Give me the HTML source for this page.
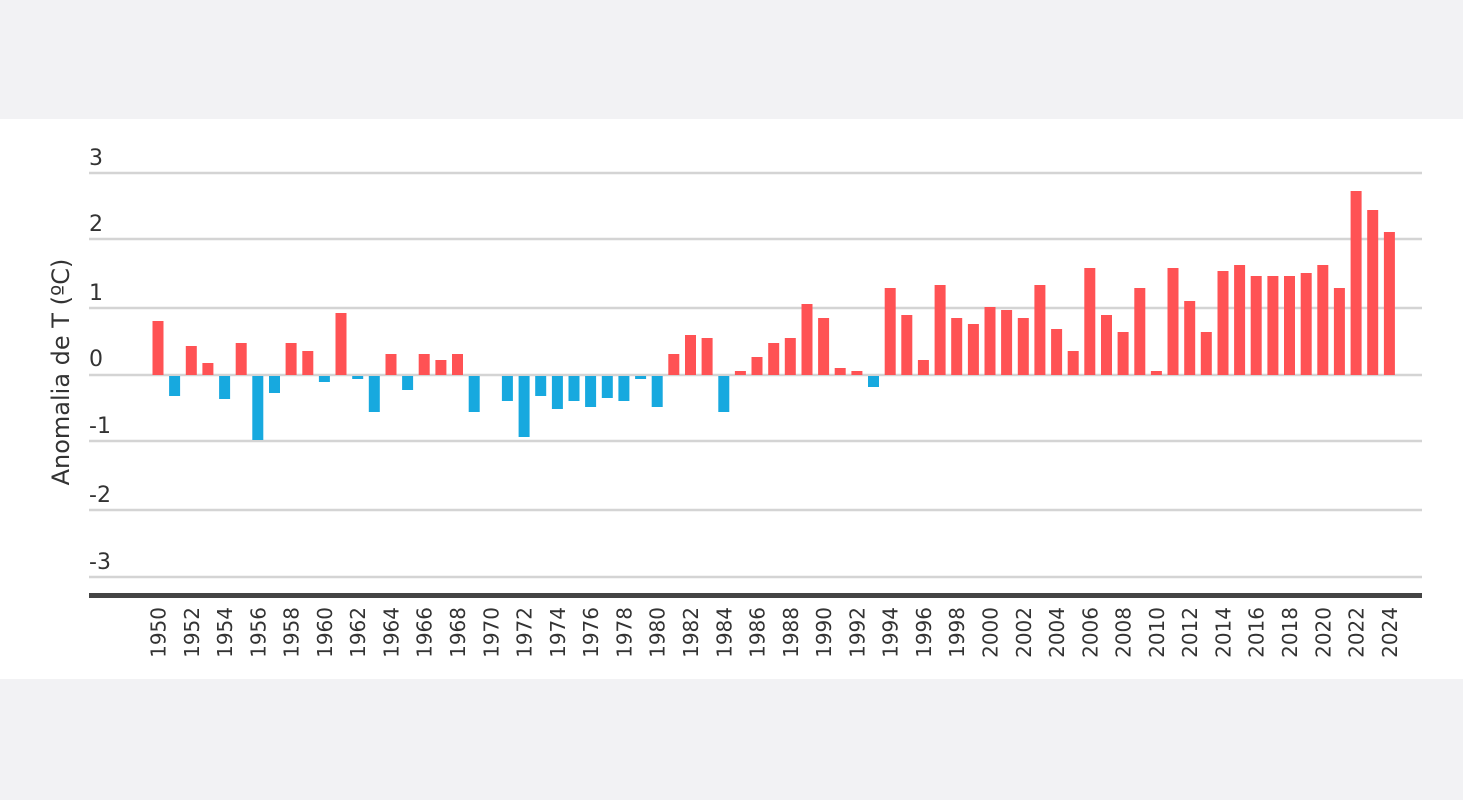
<!DOCTYPE html>
<html><head><meta charset="utf-8"><style>
html,body{margin:0;padding:0;background:#f2f2f4;}
svg{display:block;}
text{font-family:"DejaVu Sans","Liberation Sans",sans-serif;fill:#333;}
</style></head><body>
<svg width="1463" height="800" xmlns="http://www.w3.org/2000/svg">
<rect x="0" y="0" width="1463" height="800" fill="#f2f2f4"/>
<rect x="0" y="119" width="1463" height="560" fill="#fff"/>
<g stroke="#d4d4d4" stroke-width="2.5">
<line x1="89" x2="1422" y1="173" y2="173"/>
<line x1="89" x2="1422" y1="239" y2="239"/>
<line x1="89" x2="1422" y1="308" y2="308"/>
<line x1="89" x2="1422" y1="375" y2="375"/>
<line x1="89" x2="1422" y1="441" y2="441"/>
<line x1="89" x2="1422" y1="510" y2="510"/>
<line x1="89" x2="1422" y1="577" y2="577"/>
</g>
<rect x="89" y="593" width="1333" height="5" fill="#444"/>
<g font-size="22">
<text x="89" y="165">3</text>
<text x="89" y="231">2</text>
<text x="89" y="300">1</text>
<text x="89" y="366">0</text>
<text x="89" y="433">-1</text>
<text x="89" y="502">-2</text>
<text x="89" y="569">-3</text>
</g>
<text font-size="24" transform="translate(69,372) rotate(-90)" text-anchor="middle">Anomalia de T (ºC)</text>
<g fill="#ff5254">
<rect x="152.5" y="321" width="11" height="54"/>
<rect x="185.8" y="346" width="11" height="29"/>
<rect x="202.4" y="363" width="11" height="12"/>
<rect x="235.7" y="343" width="11" height="32"/>
<rect x="285.6" y="343" width="11" height="32"/>
<rect x="302.3" y="351" width="11" height="24"/>
<rect x="335.5" y="313" width="11" height="62"/>
<rect x="385.5" y="354" width="11" height="21"/>
<rect x="418.7" y="354" width="11" height="21"/>
<rect x="435.4" y="360" width="11" height="15"/>
<rect x="452.0" y="354" width="11" height="21"/>
<rect x="668.3" y="354" width="11" height="21"/>
<rect x="685.0" y="335" width="11" height="40"/>
<rect x="701.6" y="338" width="11" height="37"/>
<rect x="734.9" y="371" width="11" height="4"/>
<rect x="751.5" y="357" width="11" height="18"/>
<rect x="768.2" y="343" width="11" height="32"/>
<rect x="784.8" y="338" width="11" height="37"/>
<rect x="801.5" y="304" width="11" height="71"/>
<rect x="818.1" y="318" width="11" height="57"/>
<rect x="834.7" y="368" width="11" height="7"/>
<rect x="851.4" y="371" width="11" height="4"/>
<rect x="884.7" y="288" width="11" height="87"/>
<rect x="901.3" y="315" width="11" height="60"/>
<rect x="917.9" y="360" width="11" height="15"/>
<rect x="934.6" y="285" width="11" height="90"/>
<rect x="951.2" y="318" width="11" height="57"/>
<rect x="967.9" y="324" width="11" height="51"/>
<rect x="984.5" y="307" width="11" height="68"/>
<rect x="1001.1" y="310" width="11" height="65"/>
<rect x="1017.8" y="318" width="11" height="57"/>
<rect x="1034.4" y="285" width="11" height="90"/>
<rect x="1051.1" y="329" width="11" height="46"/>
<rect x="1067.7" y="351" width="11" height="24"/>
<rect x="1084.3" y="268" width="11" height="107"/>
<rect x="1101.0" y="315" width="11" height="60"/>
<rect x="1117.6" y="332" width="11" height="43"/>
<rect x="1134.3" y="288" width="11" height="87"/>
<rect x="1150.9" y="371" width="11" height="4"/>
<rect x="1167.5" y="268" width="11" height="107"/>
<rect x="1184.2" y="301" width="11" height="74"/>
<rect x="1200.8" y="332" width="11" height="43"/>
<rect x="1217.5" y="271" width="11" height="104"/>
<rect x="1234.1" y="265" width="11" height="110"/>
<rect x="1250.7" y="276" width="11" height="99"/>
<rect x="1267.4" y="276" width="11" height="99"/>
<rect x="1284.0" y="276" width="11" height="99"/>
<rect x="1300.7" y="273" width="11" height="102"/>
<rect x="1317.3" y="265" width="11" height="110"/>
<rect x="1333.9" y="288" width="11" height="87"/>
<rect x="1350.6" y="191" width="11" height="184"/>
<rect x="1367.2" y="210" width="11" height="165"/>
<rect x="1383.9" y="232" width="11" height="143"/>
</g>
<g fill="#17a9df">
<rect x="169.1" y="376" width="11" height="20"/>
<rect x="219.1" y="376" width="11" height="23"/>
<rect x="252.3" y="376" width="11" height="64"/>
<rect x="269.0" y="376" width="11" height="17"/>
<rect x="318.9" y="376" width="11" height="6"/>
<rect x="352.2" y="376" width="11" height="3"/>
<rect x="368.8" y="376" width="11" height="36"/>
<rect x="402.1" y="376" width="11" height="14"/>
<rect x="468.7" y="376" width="11" height="36"/>
<rect x="501.9" y="376" width="11" height="25"/>
<rect x="518.6" y="376" width="11" height="61"/>
<rect x="535.2" y="376" width="11" height="20"/>
<rect x="551.9" y="376" width="11" height="33"/>
<rect x="568.5" y="376" width="11" height="25"/>
<rect x="585.1" y="376" width="11" height="31"/>
<rect x="601.8" y="376" width="11" height="22"/>
<rect x="618.4" y="376" width="11" height="25"/>
<rect x="635.1" y="376" width="11" height="3"/>
<rect x="651.7" y="376" width="11" height="31"/>
<rect x="718.3" y="376" width="11" height="36"/>
<rect x="868.0" y="376" width="11" height="11"/>
</g>
<g font-size="20" text-anchor="end">
<text transform="translate(165.5,607) rotate(-90)">1950</text>
<text transform="translate(198.8,607) rotate(-90)">1952</text>
<text transform="translate(232.1,607) rotate(-90)">1954</text>
<text transform="translate(265.3,607) rotate(-90)">1956</text>
<text transform="translate(298.6,607) rotate(-90)">1958</text>
<text transform="translate(331.9,607) rotate(-90)">1960</text>
<text transform="translate(365.2,607) rotate(-90)">1962</text>
<text transform="translate(398.5,607) rotate(-90)">1964</text>
<text transform="translate(431.7,607) rotate(-90)">1966</text>
<text transform="translate(465.0,607) rotate(-90)">1968</text>
<text transform="translate(498.3,607) rotate(-90)">1970</text>
<text transform="translate(531.6,607) rotate(-90)">1972</text>
<text transform="translate(564.9,607) rotate(-90)">1974</text>
<text transform="translate(598.1,607) rotate(-90)">1976</text>
<text transform="translate(631.4,607) rotate(-90)">1978</text>
<text transform="translate(664.7,607) rotate(-90)">1980</text>
<text transform="translate(698.0,607) rotate(-90)">1982</text>
<text transform="translate(731.3,607) rotate(-90)">1984</text>
<text transform="translate(764.5,607) rotate(-90)">1986</text>
<text transform="translate(797.8,607) rotate(-90)">1988</text>
<text transform="translate(831.1,607) rotate(-90)">1990</text>
<text transform="translate(864.4,607) rotate(-90)">1992</text>
<text transform="translate(897.7,607) rotate(-90)">1994</text>
<text transform="translate(930.9,607) rotate(-90)">1996</text>
<text transform="translate(964.2,607) rotate(-90)">1998</text>
<text transform="translate(997.5,607) rotate(-90)">2000</text>
<text transform="translate(1030.8,607) rotate(-90)">2002</text>
<text transform="translate(1064.1,607) rotate(-90)">2004</text>
<text transform="translate(1097.3,607) rotate(-90)">2006</text>
<text transform="translate(1130.6,607) rotate(-90)">2008</text>
<text transform="translate(1163.9,607) rotate(-90)">2010</text>
<text transform="translate(1197.2,607) rotate(-90)">2012</text>
<text transform="translate(1230.5,607) rotate(-90)">2014</text>
<text transform="translate(1263.7,607) rotate(-90)">2016</text>
<text transform="translate(1297.0,607) rotate(-90)">2018</text>
<text transform="translate(1330.3,607) rotate(-90)">2020</text>
<text transform="translate(1363.6,607) rotate(-90)">2022</text>
<text transform="translate(1396.9,607) rotate(-90)">2024</text>
</g>
</svg>
</body></html>
